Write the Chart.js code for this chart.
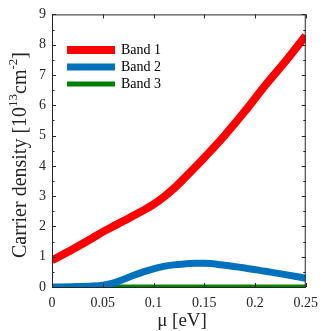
<!DOCTYPE html>
<html>
<head>
<meta charset="utf-8">
<script src="https://cdn.jsdelivr.net/npm/chart.js@4"></script>
<style>
  html, body { margin: 0; padding: 0; background: #fff; }
  #wrap { width: 326px; height: 331px; }
</style>
</head>
<body>
<div id="wrap"><canvas id="c" width="326" height="331"></canvas></div>
<script>
(function () {
    "use strict";

    const mu = [0, 0.02, 0.04, 0.05, 0.06, 0.07, 0.08, 0.09, 0.1, 0.11, 0.12, 0.13, 0.14, 0.15, 0.17, 0.19, 0.21, 0.23, 0.25];
    const band1 = [0.88, 1.24, 1.62, 1.82, 2.0, 2.17, 2.35, 2.53, 2.73, 2.97, 3.25, 3.58, 3.92, 4.27, 5.0, 5.8, 6.65, 7.45, 8.3];
    const band2 = [0, 0.01, 0.03, 0.06, 0.13, 0.25, 0.38, 0.5, 0.6, 0.68, 0.73, 0.76, 0.78, 0.78, 0.72, 0.63, 0.52, 0.41, 0.29];
    const band3 = [0, 0, 0, 0, 0, 0, 0, 0, 0, 0, 0, 0, 0, 0, 0, 0, 0, 0, 0];
    const seriesNames = ["Band 1", "Band 2", "Band 3"];
    const seriesColors = ["#ff0000", "#0072bd", "#008000"];
    const seriesWidths = [8, 7, 5];
    const xTicks = [0, 0.05, 0.1, 0.15, 0.2, 0.25];
    const yTicks = [0, 1, 2, 3, 4, 5, 6, 7, 8, 9];

    const FONT = "'Liberation Serif', 'Times New Roman', serif";
    const AXIS = "#262626";

    const pts = (ys) => mu.map((x, i) => ({ x, y: ys[i] }));

    // box, inward ticks, axis titles and legend, drawn MATLAB-style
    const decor = {
        id: "decor",
        afterDraw(chart) {
            const { ctx, chartArea: a, scales } = chart;
            const xs = scales.x, ys = scales.y;
            ctx.save();
            ctx.strokeStyle = AXIS;
            ctx.lineWidth = 1;
            ctx.strokeRect(a.left + 0.5, a.top + 0.5, a.right - a.left - 1, a.bottom - a.top);

            ctx.beginPath();
            xTicks.forEach((v) => {
                const px = Math.round(xs.getPixelForValue(v)) + 0.5;
                ctx.moveTo(px, a.bottom); ctx.lineTo(px, a.bottom - 4);
                ctx.moveTo(px, a.top); ctx.lineTo(px, a.top + 4);
            });
            for (let v = 0; v <= 9; v += 0.5) {
                const py = Math.round(ys.getPixelForValue(v)) + 0.5;
                const len = Number.isInteger(v) ? 4 : 2.5;
                ctx.moveTo(a.left, py); ctx.lineTo(a.left + len, py);
                ctx.moveTo(a.right, py); ctx.lineTo(a.right - len, py);
            }
            ctx.stroke();

            // x title
            ctx.fillStyle = AXIS;
            ctx.font = "19px " + FONT;
            ctx.textAlign = "center";
            ctx.textBaseline = "middle";
            ctx.fillText("μ [eV]", 182, 321);

            // y title with superscripts
            const parts = [
                ["Carrier density [10", false], ["13", true], ["cm", false], ["-2", true], ["]", false],
            ];
            const mainF = "20px " + FONT, supF = "13px " + FONT;
            let total = 0;
            parts.forEach(([t, sup]) => { ctx.font = sup ? supF : mainF; total += ctx.measureText(t).width; });
            ctx.translate(21, 155);
            ctx.rotate(-Math.PI / 2);
            ctx.textAlign = "left";
            let cx = -total / 2;
            parts.forEach(([t, sup]) => {
                ctx.font = sup ? supF : mainF;
                ctx.fillText(t, cx, sup ? -7 : 0);
                cx += ctx.measureText(t).width;
            });
            ctx.setTransform(1, 0, 0, 1, 0, 0);

            // legend
            ctx.font = "14px " + FONT;
            ctx.textAlign = "left";
            ctx.textBaseline = "middle";
            seriesNames.forEach((name, i) => {
                const y = 50 + i * 17;
                ctx.strokeStyle = seriesColors[i];
                ctx.lineWidth = seriesWidths[i];
                ctx.beginPath();
                ctx.moveTo(67, y); ctx.lineTo(115, y);
                ctx.stroke();
                ctx.fillStyle = "#000";
                ctx.fillText(name, 121, y + 0.5);
            });
            ctx.restore();
        },
    };

    new Chart(document.getElementById("c"), {
        type: "line",
        data: {
            datasets: [band1, band2, band3].map((d, i) => ({
                label: seriesNames[i], data: pts(d), borderColor: seriesColors[i], borderWidth: seriesWidths[i],
                pointRadius: 0, cubicInterpolationMode: "monotone", fill: false,
            })),
        },
        options: {
            responsive: false,
            animation: false,
            layout: { padding: { top: 13, right: 13, left: 0, bottom: 0 } },
            plugins: { legend: { display: false }, tooltip: { enabled: false } },
            scales: {
                x: {
                    type: "linear", min: 0, max: 0.25,
                    afterBuildTicks: (s) => { s.ticks = xTicks.map((v) => ({ value: v })); },
                    afterFit: (s) => { s.height = 44; },
                    grid: { display: false, drawTicks: false },
                    border: { display: false },
                    ticks: { color: AXIS, padding: 8, maxRotation: 0, font: { family: FONT, size: 14 }, callback: (v) => String(Math.round(v * 100) / 100) },
                },
                y: {
                    min: 0, max: 9,
                    afterBuildTicks: (s) => { s.ticks = yTicks.map((v) => ({ value: v })); },
                    afterFit: (s) => { s.width = 52; },
                    grid: { display: false, drawTicks: false },
                    border: { display: false },
                    ticks: { color: AXIS, padding: 6, font: { family: FONT, size: 14 } },
                },
            },
        },
        plugins: [decor],
    });
})();
</script>
</body>
</html>
